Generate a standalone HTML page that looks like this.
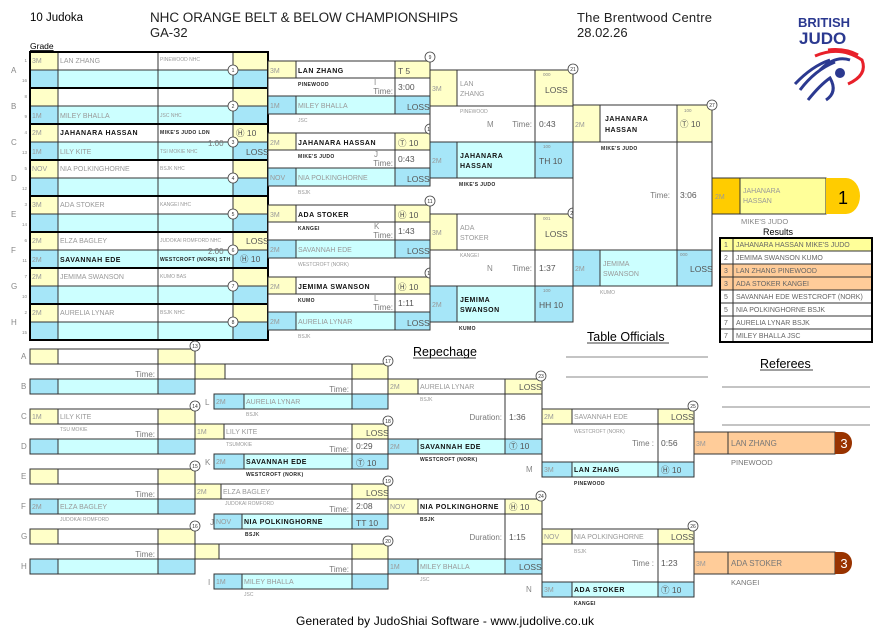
<!DOCTYPE html>
<html><head><meta charset="utf-8"><style>
body{margin:0;background:#fff}
svg{display:block;font-family:"Liberation Sans","DejaVu Sans",sans-serif}
.Y{fill:#ffffc8;stroke:#333}.B{fill:#a6e6f8;stroke:#333}.C{fill:#ccffff;stroke:#333}.W{fill:#fff;stroke:#333}.N{fill:none;stroke:#333}
.g{font-size:7px;fill:#999}.n{font-size:7px;fill:#999}.nb{font-size:7px;font-weight:bold;fill:#111;letter-spacing:.5px}
.cb{font-size:5px;font-weight:bold;fill:#222;letter-spacing:.4px}.cs{font-size:5px;fill:#999}.t{font-size:8px;fill:#777}
.sc{font-size:8.5px;fill:#555}.lb{font-size:8px;fill:#888}.tiny{font-size:4.5px;fill:#888}
.cir{fill:#fff;stroke:#444;stroke-width:.8}.cn{font-size:5px;fill:#333;text-anchor:middle}
</style></head><body>
<svg width="891" height="630" viewBox="0 0 891 630" xmlns="http://www.w3.org/2000/svg">
<g stroke-width="1">
<text x="30" y="21" font-size="11.5" fill="#000">10 Judoka</text>
<text x="150" y="22" font-size="13.5" fill="#222" textLength="308">NHC ORANGE BELT &amp; BELOW CHAMPIONSHIPS</text>
<text x="150" y="37" font-size="13" fill="#222">GA-32</text>
<text x="577" y="22" font-size="13" fill="#222" textLength="135">The Brentwood Centre</text>
<text x="577" y="37" font-size="13" fill="#222">28.02.26</text>
<text x="798" y="27" font-size="13" font-weight="bold" fill="#2b3990">BRITISH</text>
<text x="799" y="44" font-size="17" font-weight="bold" fill="#2b3990">JUDO</text>
<path d="M800 90 Q815 70 835 62 M795 84 Q812 66 830 60 M808 100 Q820 85 830 78 Q838 92 826 100 M820 70 Q835 55 850 60" stroke="#2b3990" stroke-width="3" fill="none"/>
<path d="M815 56 Q840 45 862 60 Q868 75 848 84 M828 50 Q845 48 858 55" stroke="#e8202a" stroke-width="3" fill="none"/>
<circle cx="840" cy="73" r="5" fill="#2b3990"/>
<text x="30" y="49" font-size="8.5" fill="#000" text-decoration="underline">Grade</text>

<g id="r1">
<rect class="Y" x="30" y="52" width="28" height="18"/><rect class="W" x="58" y="52" width="100" height="18"/><rect class="W" x="158" y="52" width="75" height="18"/><rect class="Y" x="233" y="52" width="35" height="18"/>
<rect class="B" x="30" y="70" width="28" height="18"/><rect class="C" x="58" y="70" width="100" height="18"/><rect class="C" x="158" y="70" width="75" height="18"/><rect class="B" x="233" y="70" width="35" height="18"/>
<rect class="Y" x="30" y="88" width="28" height="18"/><rect class="W" x="58" y="88" width="100" height="18"/><rect class="W" x="158" y="88" width="75" height="18"/><rect class="Y" x="233" y="88" width="35" height="18"/>
<rect class="B" x="30" y="106" width="28" height="18"/><rect class="C" x="58" y="106" width="100" height="18"/><rect class="C" x="158" y="106" width="75" height="18"/><rect class="B" x="233" y="106" width="35" height="18"/>
<rect class="Y" x="30" y="124" width="28" height="18"/><rect class="W" x="58" y="124" width="100" height="18"/><rect class="W" x="158" y="124" width="75" height="18"/><rect class="Y" x="233" y="124" width="35" height="18"/>
<rect class="B" x="30" y="142" width="28" height="18"/><rect class="C" x="58" y="142" width="100" height="18"/><rect class="C" x="158" y="142" width="75" height="18"/><rect class="B" x="233" y="142" width="35" height="18"/>
<rect class="Y" x="30" y="160" width="28" height="18"/><rect class="W" x="58" y="160" width="100" height="18"/><rect class="W" x="158" y="160" width="75" height="18"/><rect class="Y" x="233" y="160" width="35" height="18"/>
<rect class="B" x="30" y="178" width="28" height="18"/><rect class="C" x="58" y="178" width="100" height="18"/><rect class="C" x="158" y="178" width="75" height="18"/><rect class="B" x="233" y="178" width="35" height="18"/>
<rect class="Y" x="30" y="196" width="28" height="18"/><rect class="W" x="58" y="196" width="100" height="18"/><rect class="W" x="158" y="196" width="75" height="18"/><rect class="Y" x="233" y="196" width="35" height="18"/>
<rect class="B" x="30" y="214" width="28" height="18"/><rect class="C" x="58" y="214" width="100" height="18"/><rect class="C" x="158" y="214" width="75" height="18"/><rect class="B" x="233" y="214" width="35" height="18"/>
<rect class="Y" x="30" y="232" width="28" height="18"/><rect class="W" x="58" y="232" width="100" height="18"/><rect class="W" x="158" y="232" width="75" height="18"/><rect class="Y" x="233" y="232" width="35" height="18"/>
<rect class="B" x="30" y="250" width="28" height="18"/><rect class="C" x="58" y="250" width="100" height="18"/><rect class="C" x="158" y="250" width="75" height="18"/><rect class="B" x="233" y="250" width="35" height="18"/>
<rect class="Y" x="30" y="268" width="28" height="18"/><rect class="W" x="58" y="268" width="100" height="18"/><rect class="W" x="158" y="268" width="75" height="18"/><rect class="Y" x="233" y="268" width="35" height="18"/>
<rect class="B" x="30" y="286" width="28" height="18"/><rect class="C" x="58" y="286" width="100" height="18"/><rect class="C" x="158" y="286" width="75" height="18"/><rect class="B" x="233" y="286" width="35" height="18"/>
<rect class="Y" x="30" y="304" width="28" height="18"/><rect class="W" x="58" y="304" width="100" height="18"/><rect class="W" x="158" y="304" width="75" height="18"/><rect class="Y" x="233" y="304" width="35" height="18"/>
<rect class="B" x="30" y="322" width="28" height="18"/><rect class="C" x="58" y="322" width="100" height="18"/><rect class="C" x="158" y="322" width="75" height="18"/><rect class="B" x="233" y="322" width="35" height="18"/>
<rect x="30" y="52" width="238" height="288" fill="none" stroke="#000" stroke-width="2"/>
<path d="M30 88H268M30 124H268M30 160H268M30 196H268M30 232H268M30 268H268M30 304H268" stroke="#000" stroke-width="2"/>
<g class="lb"><text x="11" y="73">A</text><text x="11" y="109">B</text><text x="11" y="145">C</text><text x="11" y="181">D</text><text x="11" y="217">E</text><text x="11" y="253">F</text><text x="11" y="289">G</text><text x="11" y="325">H</text></g>
<g class="tiny" text-anchor="end" font-size="5.5"><text x="27" y="62">1</text><text x="27" y="82">16</text><text x="27" y="98">8</text><text x="27" y="118">9</text><text x="27" y="134">4</text><text x="27" y="154">13</text><text x="27" y="170">5</text><text x="27" y="190">12</text><text x="27" y="206">3</text><text x="27" y="226">14</text><text x="27" y="242">6</text><text x="27" y="262">11</text><text x="27" y="278">7</text><text x="27" y="298">10</text><text x="27" y="314">2</text><text x="27" y="334">15</text></g>
<g class="g"><text x="32" y="63">3M</text><text x="32" y="118">1M</text><text x="32" y="135">2M</text><text x="32" y="154">1M</text><text x="32" y="171">NOV</text><text x="32" y="207">3M</text><text x="32" y="243">2M</text><text x="32" y="262">2M</text><text x="32" y="279">2M</text><text x="32" y="315">2M</text></g>
<g class="n"><text x="60" y="63">LAN ZHANG</text><text x="60" y="118">MILEY BHALLA</text><text x="60" y="154">LILY KITE</text><text x="60" y="171">NIA POLKINGHORNE</text><text x="60" y="207">ADA STOKER</text><text x="60" y="243">ELZA BAGLEY</text><text x="60" y="279">JEMIMA SWANSON</text><text x="60" y="315">AURELIA LYNAR</text></g>
<text class="nb" x="60" y="135">JAHANARA HASSAN</text><text class="nb" x="60" y="262">SAVANNAH EDE</text>
<g class="cs"><text x="160" y="61">PINEWOOD NHC</text><text x="160" y="117">JSC NHC</text><text x="160" y="153">TSI MOKIE NHC</text><text x="160" y="170">BSJK NHC</text><text x="160" y="206">KANGEI NHC</text><text x="160" y="242">JUDOKAI ROMFORD NHC</text><text x="160" y="278">KUMO BAS</text><text x="160" y="314">BSJK NHC</text></g>
<text class="cb" x="160" y="134">MIKE'S JUDO LDN</text><text class="cb" x="160" y="261" font-size="4.6">WESTCROFT (NORK) STH</text>
<text class="t" x="208" y="146" font-size="7">1:00</text><text class="t" x="208" y="254" font-size="7">2:00</text>
<text class="sc" x="236" y="136">Ⓗ 10</text><text class="sc" x="246" y="155">LOSS</text>
<text class="sc" x="246" y="244">LOSS</text><text class="sc" x="240" y="262">Ⓗ 10</text>
<g><circle class="cir" cx="233" cy="70" r="5"/><circle class="cir" cx="233" cy="106" r="5"/><circle class="cir" cx="233" cy="142" r="5"/><circle class="cir" cx="233" cy="178" r="5"/><circle class="cir" cx="233" cy="214" r="5"/><circle class="cir" cx="233" cy="250" r="5"/><circle class="cir" cx="233" cy="286" r="5"/><circle class="cir" cx="233" cy="322" r="5"/></g>
<g class="cn"><text x="233" y="72">1</text><text x="233" y="108">2</text><text x="233" y="144">3</text><text x="233" y="180">4</text><text x="233" y="216">5</text><text x="233" y="252">6</text><text x="233" y="288">7</text><text x="233" y="324">8</text></g>
</g>

<g>
<rect class="W" x="268" y="61" width="162" height="53"/><rect class="W" x="268" y="133" width="162" height="53"/><rect class="W" x="268" y="205" width="162" height="53"/><rect class="W" x="268" y="277" width="162" height="53"/>
<path class="N" d="M395 61V114M395 133V186M395 205V258M395 277V330"/>
<rect class="Y" x="268" y="61" width="28" height="17"/><rect class="W" x="296" y="61" width="99" height="17"/><rect class="Y" x="395" y="61" width="35" height="17"/>
<rect class="B" x="268" y="96" width="28" height="18"/><rect class="C" x="296" y="96" width="99" height="18"/><rect class="B" x="395" y="96" width="35" height="18"/>
<rect class="Y" x="268" y="133" width="28" height="17"/><rect class="W" x="296" y="133" width="99" height="17"/><rect class="Y" x="395" y="133" width="35" height="17"/>
<rect class="B" x="268" y="168" width="28" height="18"/><rect class="C" x="296" y="168" width="99" height="18"/><rect class="B" x="395" y="168" width="35" height="18"/>
<rect class="Y" x="268" y="205" width="28" height="17"/><rect class="W" x="296" y="205" width="99" height="17"/><rect class="Y" x="395" y="205" width="35" height="17"/>
<rect class="B" x="268" y="240" width="28" height="18"/><rect class="C" x="296" y="240" width="99" height="18"/><rect class="B" x="395" y="240" width="35" height="18"/>
<rect class="Y" x="268" y="277" width="28" height="17"/><rect class="W" x="296" y="277" width="99" height="17"/><rect class="Y" x="395" y="277" width="35" height="17"/>
<rect class="B" x="268" y="312" width="28" height="18"/><rect class="C" x="296" y="312" width="99" height="18"/><rect class="B" x="395" y="312" width="35" height="18"/>
<g class="g"><text x="270" y="73">3M</text><text x="270" y="108">1M</text><text x="270" y="145">2M</text><text x="270" y="180">NOV</text><text x="270" y="217">3M</text><text x="270" y="252">2M</text><text x="270" y="289">2M</text><text x="270" y="324">2M</text></g>
<g class="nb"><text x="298" y="73">LAN ZHANG</text><text x="298" y="145">JAHANARA HASSAN</text><text x="298" y="217">ADA  STOKER</text><text x="298" y="289">JEMIMA SWANSON</text></g>
<g class="n"><text x="298" y="108">MILEY BHALLA</text><text x="298" y="180">NIA POLKINGHORNE</text><text x="298" y="252">SAVANNAH EDE</text><text x="298" y="324">AURELIA LYNAR</text></g>
<g class="cb"><text x="298" y="86">PINEWOOD</text><text x="298" y="158">MIKE'S JUDO</text><text x="298" y="230">KANGEI</text><text x="298" y="302">KUMO</text></g>
<g class="cs"><text x="298" y="122">JSC</text><text x="298" y="194">BSJK</text><text x="298" y="266">WESTCROFT (NORK)</text><text x="298" y="338">BSJK</text></g>
<g class="lb"><text x="374" y="85">I</text><text x="374" y="157">J</text><text x="374" y="229">K</text><text x="374" y="301">L</text></g>
<g class="t" text-anchor="end"><text x="393" y="94">Time:</text><text x="393" y="166">Time:</text><text x="393" y="238">Time:</text><text x="393" y="310">Time:</text></g>
<g class="sc"><text x="398" y="90">3:00</text><text x="398" y="162">0:43</text><text x="398" y="234">1:43</text><text x="398" y="306">1:11</text>
<text x="398" y="74">T  5</text><text x="398" y="146">Ⓣ 10</text><text x="398" y="218">Ⓗ 10</text><text x="398" y="290">Ⓗ 10</text>
<text x="407" y="110">LOSS</text><text x="407" y="182">LOSS</text><text x="407" y="254">LOSS</text><text x="407" y="326">LOSS</text></g>
<circle class="cir" cx="430" cy="57" r="5"/><circle class="cir" cx="430" cy="129" r="5"/><circle class="cir" cx="430" cy="201" r="5"/><circle class="cir" cx="430" cy="273" r="5"/>
<g class="cn"><text x="430" y="59">9</text><text x="430" y="131">10</text><text x="430" y="203">11</text><text x="430" y="275">12</text></g>
</g>

<g>
<rect class="W" x="430" y="70" width="143" height="108"/><rect class="W" x="430" y="214" width="143" height="108"/>
<path class="N" d="M535 70V178M535 214V322"/>
<rect class="Y" x="430" y="70" width="27" height="36"/><rect class="W" x="457" y="70" width="78" height="36"/><rect class="Y" x="535" y="70" width="38" height="36"/>
<rect class="B" x="430" y="142" width="27" height="36"/><rect class="C" x="457" y="142" width="78" height="36"/><rect class="B" x="535" y="142" width="38" height="36"/>
<rect class="Y" x="430" y="214" width="27" height="36"/><rect class="W" x="457" y="214" width="78" height="36"/><rect class="Y" x="535" y="214" width="38" height="36"/>
<rect class="B" x="430" y="286" width="27" height="36"/><rect class="C" x="457" y="286" width="78" height="36"/><rect class="B" x="535" y="286" width="38" height="36"/>
<g class="g"><text x="432" y="91">3M</text><text x="432" y="163">2M</text><text x="432" y="235">3M</text><text x="432" y="307">2M</text></g>
<g class="n"><text x="460" y="86">LAN</text><text x="460" y="96">ZHANG</text><text x="460" y="230">ADA</text><text x="460" y="240">STOKER</text></g>
<g class="nb"><text x="460" y="158">JAHANARA</text><text x="460" y="168">HASSAN</text><text x="460" y="302">JEMIMA</text><text x="460" y="312">SWANSON</text></g>
<g class="cs"><text x="460" y="113">PINEWOOD</text><text x="460" y="257">KANGEI</text></g>
<g class="cb"><text x="459" y="186">MIKE'S JUDO</text><text x="459" y="330">KUMO</text></g>
<g class="lb"><text x="487" y="127">M</text><text x="487" y="271">N</text></g>
<g class="t" text-anchor="end"><text x="532" y="127">Time:</text><text x="532" y="271">Time:</text></g>
<g class="sc"><text x="539" y="127">0:43</text><text x="539" y="271">1:37</text><text x="545" y="93">LOSS</text><text x="545" y="237">LOSS</text><text x="539" y="164">TH 10</text><text x="539" y="308">HH 10</text></g>
<g class="tiny"><text x="543" y="76">000</text><text x="543" y="220">001</text><text x="543" y="148">100</text><text x="543" y="292">100</text></g>
<circle class="cir" cx="573" cy="69" r="5"/><circle class="cir" cx="573" cy="213" r="5"/>
<g class="cn"><text x="573" y="71">21</text><text x="573" y="215">22</text></g>
</g>

<g>
<rect class="W" x="573" y="105" width="139" height="181"/><path class="N" d="M677 105V286"/>
<rect class="Y" x="573" y="105" width="27" height="37"/><rect class="W" x="600" y="105" width="77" height="37"/><rect class="Y" x="677" y="105" width="35" height="37"/>
<rect class="B" x="573" y="250" width="27" height="36"/><rect class="C" x="600" y="250" width="77" height="36"/><rect class="B" x="677" y="250" width="35" height="36"/>
<text class="g" x="575" y="127">2M</text><text class="g" x="575" y="271">2M</text>
<text class="nb" x="605" y="121">JAHANARA</text><text class="nb" x="605" y="132">HASSAN</text>
<text class="n" x="603" y="266">JEMIMA</text><text class="n" x="603" y="276">SWANSON</text>
<text class="cb" x="601" y="150">MIKE'S JUDO</text><text class="cs" x="600" y="294">KUMO</text>
<text class="t" x="670" y="198" text-anchor="end">Time:</text><text class="sc" x="680" y="198">3:06</text>
<text class="sc" x="680" y="127">Ⓣ 10</text><text class="sc" x="690" y="272">LOSS</text>
<text class="tiny" x="684" y="112">100</text><text class="tiny" x="680" y="256">000</text>
<circle class="cir" cx="712" cy="105" r="5"/><text class="cn" x="712" y="107">27</text>
</g>

<rect x="712" y="178" width="28" height="36" fill="#ffcc00" stroke="#333"/><rect x="740" y="178" width="86" height="36" fill="#ffff99" stroke="#333"/>
<path d="M826 178H846A14 18 0 0 1 846 214H826Z" fill="#ffcc00"/>
<text x="843" y="204" font-size="18" text-anchor="middle" fill="#000">1</text>
<text class="g" x="715" y="199">2M</text><text class="n" x="743" y="193" font-size="8">JAHANARA</text><text class="n" x="743" y="203" font-size="8">HASSAN</text>
<text x="741" y="224" font-size="7.5" fill="#888">MIKE'S JUDO</text>

<text x="778" y="235" font-size="9" text-anchor="middle">Results</text>
<g font-size="7" fill="#666">
<rect x="720" y="238" width="152" height="13" fill="#ffff99" stroke="#333"/>
<rect x="720" y="251" width="152" height="13" fill="#fff" stroke="#333"/>
<rect x="720" y="264" width="152" height="13" fill="#ffcc99" stroke="#333"/>
<rect x="720" y="277" width="152" height="13" fill="#ffcc99" stroke="#333"/>
<rect x="720" y="290" width="152" height="13" fill="#fff" stroke="#333"/>
<rect x="720" y="303" width="152" height="13" fill="#fff" stroke="#333"/>
<rect x="720" y="316" width="152" height="13" fill="#fff" stroke="#333"/>
<rect x="720" y="329" width="152" height="13" fill="#fff" stroke="#333"/>
<path d="M733 238V342" stroke="#333"/>
<rect x="720" y="238" width="152" height="104" fill="none" stroke="#000" stroke-width="2"/>
<text x="724" y="247">1</text><text x="736" y="247">JAHANARA HASSAN MIKE'S JUDO</text>
<text x="724" y="260">2</text><text x="736" y="260">JEMIMA SWANSON KUMO</text>
<text x="724" y="273">3</text><text x="736" y="273">LAN ZHANG PINEWOOD</text>
<text x="724" y="286">3</text><text x="736" y="286">ADA  STOKER KANGEI</text>
<text x="724" y="299">5</text><text x="736" y="299">SAVANNAH EDE WESTCROFT (NORK)</text>
<text x="724" y="312">5</text><text x="736" y="312">NIA POLKINGHORNE BSJK</text>
<text x="724" y="325">7</text><text x="736" y="325">AURELIA LYNAR BSJK</text>
<text x="724" y="338">7</text><text x="736" y="338">MILEY BHALLA JSC</text>
</g>

<text x="587" y="341" font-size="12.5">Table Officials</text>
<text x="760" y="368" font-size="12.5">Referees</text>
<text x="413" y="356" font-size="12.5">Repechage</text>
<path d="M413 358H476M587 343H669M760 370H813" stroke="#000" stroke-width=".8"/>
<path d="M566 357H708M566 377H708M722 387H870M722 407H870M722 425H870" stroke="#888"/>

<g>
<rect class="W" x="158" y="349" width="37" height="45"/><rect class="W" x="158" y="409" width="37" height="45"/><rect class="W" x="158" y="469" width="37" height="45"/><rect class="W" x="158" y="529" width="37" height="45"/>
<rect class="Y" x="30" y="349" width="28" height="15"/><rect class="W" x="58" y="349" width="100" height="15"/><rect class="Y" x="158" y="349" width="37" height="15"/>
<rect class="B" x="30" y="379" width="28" height="15"/><rect class="C" x="58" y="379" width="100" height="15"/><rect class="B" x="158" y="379" width="37" height="15"/>
<rect class="Y" x="30" y="409" width="28" height="15"/><rect class="W" x="58" y="409" width="100" height="15"/><rect class="Y" x="158" y="409" width="37" height="15"/>
<rect class="B" x="30" y="439" width="28" height="15"/><rect class="C" x="58" y="439" width="100" height="15"/><rect class="B" x="158" y="439" width="37" height="15"/>
<rect class="Y" x="30" y="469" width="28" height="15"/><rect class="W" x="58" y="469" width="100" height="15"/><rect class="Y" x="158" y="469" width="37" height="15"/>
<rect class="B" x="30" y="499" width="28" height="15"/><rect class="C" x="58" y="499" width="100" height="15"/><rect class="B" x="158" y="499" width="37" height="15"/>
<rect class="Y" x="30" y="529" width="28" height="15"/><rect class="W" x="58" y="529" width="100" height="15"/><rect class="Y" x="158" y="529" width="37" height="15"/>
<rect class="B" x="30" y="559" width="28" height="15"/><rect class="C" x="58" y="559" width="100" height="15"/><rect class="B" x="158" y="559" width="37" height="15"/>
<g class="lb"><text x="21" y="359">A</text><text x="21" y="389">B</text><text x="21" y="419">C</text><text x="21" y="449">D</text><text x="21" y="479">E</text><text x="21" y="509">F</text><text x="21" y="539">G</text><text x="21" y="569">H</text></g>
<g class="t" text-anchor="end"><text x="155" y="377">Time:</text><text x="155" y="437">Time:</text><text x="155" y="497">Time:</text><text x="155" y="557">Time:</text></g>
<text class="g" x="32" y="419">1M</text><text class="n" x="60" y="419">LILY KITE</text><text class="cs" x="60" y="431">TSU MOKIE</text>
<text class="g" x="32" y="509">2M</text><text class="n" x="60" y="509">ELZA BAGLEY</text><text class="cs" x="60" y="521">JUDOKAI ROMFORD</text>
<circle class="cir" cx="195" cy="346" r="5"/><circle class="cir" cx="195" cy="406" r="5"/><circle class="cir" cx="195" cy="466" r="5"/><circle class="cir" cx="195" cy="526" r="5"/>
<g class="cn"><text x="195" y="348">13</text><text x="195" y="408">14</text><text x="195" y="468">15</text><text x="195" y="528">16</text></g>
</g>

<g>
<rect class="W" x="352" y="364" width="36" height="45"/><rect class="W" x="352" y="424" width="36" height="45"/><rect class="W" x="352" y="484" width="36" height="45"/><rect class="W" x="352" y="544" width="36" height="45"/>
<rect class="Y" x="195" y="364" width="30" height="15"/><rect class="W" x="225" y="364" width="127" height="15"/><rect class="Y" x="352" y="364" width="36" height="15"/>
<rect class="B" x="214" y="394" width="30" height="15"/><rect class="C" x="244" y="394" width="108" height="15"/><rect class="B" x="352" y="394" width="36" height="15"/>
<rect class="Y" x="195" y="424" width="29" height="15"/><rect class="W" x="224" y="424" width="128" height="15"/><rect class="Y" x="352" y="424" width="36" height="15"/>
<rect class="B" x="214" y="454" width="30" height="15"/><rect class="C" x="244" y="454" width="108" height="15"/><rect class="B" x="352" y="454" width="36" height="15"/>
<rect class="Y" x="195" y="484" width="26" height="15"/><rect class="W" x="221" y="484" width="131" height="15"/><rect class="Y" x="352" y="484" width="36" height="15"/>
<rect class="B" x="214" y="514" width="28" height="15"/><rect class="C" x="242" y="514" width="110" height="15"/><rect class="B" x="352" y="514" width="36" height="15"/>
<rect class="Y" x="195" y="544" width="24" height="15"/><rect class="W" x="219" y="544" width="133" height="15"/><rect class="Y" x="352" y="544" width="36" height="15"/>
<rect class="B" x="214" y="574" width="28" height="15"/><rect class="C" x="242" y="574" width="110" height="15"/><rect class="B" x="352" y="574" width="36" height="15"/>
<g class="lb"><text x="205" y="405">L</text><text x="205" y="465">K</text><text x="210" y="525">J</text><text x="208" y="585">I</text></g>
<g class="t" text-anchor="end"><text x="349" y="392">Time:</text><text x="349" y="452">Time:</text><text x="349" y="512">Time:</text><text x="349" y="572">Time:</text></g>
<g class="g"><text x="216" y="404">2M</text><text x="197" y="434">1M</text><text x="216" y="464">2M</text><text x="197" y="494">2M</text><text x="216" y="524">NOV</text><text x="216" y="584">1M</text></g>
<g class="n"><text x="246" y="404">AURELIA LYNAR</text><text x="226" y="434">LILY KITE</text><text x="223" y="494">ELZA BAGLEY</text><text x="244" y="584">MILEY BHALLA</text></g>
<g class="nb"><text x="246" y="464">SAVANNAH EDE</text><text x="244" y="524">NIA POLKINGHORNE</text></g>
<g class="cs"><text x="246" y="416">BSJK</text><text x="226" y="446">TSUMOKIE</text><text x="225" y="505">JUDOKAI ROMFORD</text><text x="244" y="596">JSC</text></g>
<g class="cb"><text x="246" y="476">WESTCROFT (NORK)</text><text x="245" y="536">BSJK</text></g>
<g class="sc"><text x="356" y="449">0:29</text><text x="356" y="509">2:08</text><text x="366" y="436">LOSS</text><text x="366" y="496">LOSS</text><text x="356" y="466">Ⓣ 10</text><text x="356" y="526">TT 10</text></g>
<circle class="cir" cx="388" cy="361" r="5"/><circle class="cir" cx="388" cy="421" r="5"/><circle class="cir" cx="388" cy="481" r="5"/><circle class="cir" cx="388" cy="541" r="5"/>
<g class="cn"><text x="388" y="363">17</text><text x="388" y="423">18</text><text x="388" y="483">19</text><text x="388" y="543">20</text></g>
</g>

<g>
<rect class="W" x="505" y="379" width="37" height="75"/><rect class="W" x="505" y="499" width="37" height="75"/>
<rect class="Y" x="388" y="379" width="30" height="15"/><rect class="W" x="418" y="379" width="87" height="15"/><rect class="Y" x="505" y="379" width="37" height="15"/>
<rect class="B" x="388" y="439" width="30" height="15"/><rect class="C" x="418" y="439" width="87" height="15"/><rect class="B" x="505" y="439" width="37" height="15"/>
<rect class="Y" x="388" y="499" width="30" height="15"/><rect class="W" x="418" y="499" width="87" height="15"/><rect class="Y" x="505" y="499" width="37" height="15"/>
<rect class="B" x="388" y="559" width="30" height="15"/><rect class="C" x="418" y="559" width="87" height="15"/><rect class="B" x="505" y="559" width="37" height="15"/>
<g class="g"><text x="390" y="389">2M</text><text x="390" y="449">2M</text><text x="390" y="509">NOV</text><text x="390" y="569">1M</text></g>
<text class="n" x="420" y="389">AURELIA LYNAR</text><text class="nb" x="420" y="449">SAVANNAH EDE</text>
<text class="nb" x="420" y="509">NIA POLKINGHORNE</text><text class="n" x="420" y="569">MILEY BHALLA</text>
<text class="cs" x="420" y="401">BSJK</text><text class="cb" x="420" y="461">WESTCROFT (NORK)</text><text class="cb" x="420" y="521">BSJK</text><text class="cs" x="420" y="581">JSC</text>
<g class="t" text-anchor="end"><text x="502" y="420">Duration:</text><text x="502" y="540">Duration:</text></g>
<g class="sc"><text x="509" y="420">1:36</text><text x="509" y="540">1:15</text><text x="519" y="390">LOSS</text><text x="509" y="449">Ⓣ 10</text><text x="509" y="510">Ⓗ 10</text><text x="519" y="570">LOSS</text></g>
<circle class="cir" cx="541" cy="376" r="5"/><circle class="cir" cx="541" cy="496" r="5"/>
<g class="cn"><text x="541" y="378">23</text><text x="541" y="498">24</text></g>
</g>

<g>
<rect class="W" x="542" y="409" width="152" height="68"/><rect class="W" x="542" y="529" width="152" height="68"/>
<path class="N" d="M658 409V477M658 529V597"/>
<rect class="Y" x="542" y="409" width="30" height="15"/><rect class="W" x="572" y="409" width="86" height="15"/><rect class="Y" x="658" y="409" width="36" height="15"/>
<rect class="B" x="542" y="462" width="30" height="15"/><rect class="C" x="572" y="462" width="86" height="15"/><rect class="B" x="658" y="462" width="36" height="15"/>
<rect class="Y" x="542" y="529" width="30" height="15"/><rect class="W" x="572" y="529" width="86" height="15"/><rect class="Y" x="658" y="529" width="36" height="15"/>
<rect class="B" x="542" y="582" width="30" height="15"/><rect class="C" x="572" y="582" width="86" height="15"/><rect class="B" x="658" y="582" width="36" height="15"/>
<g class="g"><text x="544" y="419">2M</text><text x="544" y="472">3M</text><text x="544" y="539">NOV</text><text x="544" y="592">3M</text></g>
<text class="n" x="574" y="419">SAVANNAH EDE</text><text class="nb" x="574" y="472">LAN ZHANG</text>
<text class="n" x="574" y="539">NIA POLKINGHORNE</text><text class="nb" x="574" y="592">ADA  STOKER</text>
<text class="cs" x="574" y="433">WESTCROFT (NORK)</text><text class="cs" x="574" y="553">BSJK</text>
<text class="cb" x="574" y="485">PINEWOOD</text><text class="cb" x="574" y="605">KANGEI</text>
<text class="lb" x="526" y="472">M</text><text class="lb" x="526" y="592">N</text>
<g class="t" text-anchor="end"><text x="654" y="446">Time :</text><text x="654" y="566">Time :</text></g>
<g class="sc"><text x="661" y="446">0:56</text><text x="661" y="566">1:23</text><text x="671" y="420">LOSS</text><text x="671" y="540">LOSS</text><text x="661" y="473">Ⓗ 10</text><text x="661" y="593">Ⓣ 10</text></g>
<circle class="cir" cx="693" cy="406" r="5"/><circle class="cir" cx="693" cy="526" r="5"/>
<g class="cn"><text x="693" y="408">25</text><text x="693" y="528">26</text></g>
</g>

<rect x="694" y="432" width="34" height="22" fill="#ffcc99" stroke="#333"/><rect x="728" y="432" width="107" height="22" fill="#ffcc99" stroke="#333"/>
<path d="M835 432H842A10 11 0 0 1 842 454H835Z" fill="#993300"/>
<text x="844" y="448" font-size="13" fill="#fff" text-anchor="middle">3</text>
<text class="g" x="696" y="446">3M</text><text x="731" y="446" font-size="8" fill="#777">LAN ZHANG</text>
<text x="731" y="465" font-size="7.5" fill="#777">PINEWOOD</text>
<rect x="694" y="552" width="34" height="22" fill="#ffcc99" stroke="#333"/><rect x="728" y="552" width="107" height="22" fill="#ffcc99" stroke="#333"/>
<path d="M835 552H842A10 11 0 0 1 842 574H835Z" fill="#993300"/>
<text x="844" y="568" font-size="13" fill="#fff" text-anchor="middle">3</text>
<text class="g" x="696" y="566">3M</text><text x="731" y="566" font-size="8" fill="#777">ADA  STOKER</text>
<text x="731" y="585" font-size="7.5" fill="#777">KANGEI</text>

<text x="445" y="625" font-size="12" text-anchor="middle" fill="#000" textLength="298">Generated by JudoShiai Software - www.judolive.co.uk</text>
</g>
</svg>
</body></html>
